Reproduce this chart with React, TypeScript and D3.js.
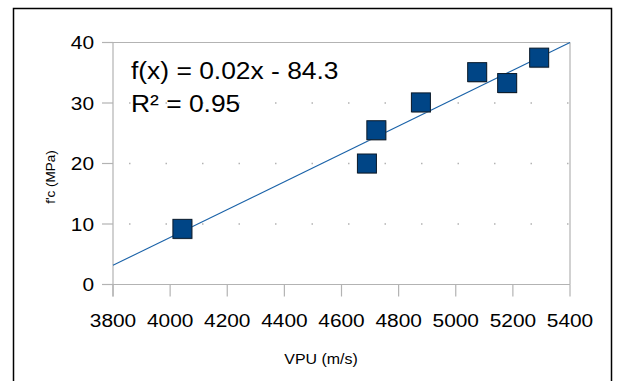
import React from "react";
import * as d3 from "d3";

const vpu = [4043, 4689, 4722, 4878, 5075, 5180, 5292];
const fc = [9.2, 20.0, 25.5, 30.1, 35.1, 33.3, 37.5];
const xTicks = [3800, 4000, 4200, 4400, 4600, 4800, 5000, 5200, 5400];
const yTicks = [0, 10, 20, 30, 40];
const gridValues = [10, 20, 30];
const trendSlope = 0.02302;
const trendIntercept = -84.3;
const equationLines = ["f(x) = 0.02x - 84.3", "R² = 0.95"];
const xTitle = "VPU (m/s)";
const yTitle = "f'c (MPa)";

const W = 618;
const H = 381;
const FONT = "'Liberation Sans', Arial, sans-serif";
const SX = 1.16;

function SText({ x, y, size, anchor = "start", children, sx = SX }: any) {
  return (
    <text
      transform={`translate(${x},${y}) scale(${sx},1)`}
      fontSize={size}
      fontFamily={FONT}
      textAnchor={anchor}
      fill="#000"
    >
      {children}
    </text>
  );
}

export default function App() {
  const x = d3.scaleLinear().domain([3800, 5400]).range([113, 570]);
  const y = d3.scaleLinear().domain([0, 40]).range([284.5, 42.5]);
  const axisColor = "#b3b3b3";
  const [x0, x1] = x.domain();
  const line = d3
    .line<number>()
    .x((d) => x(d))
    .y((d) => y(trendSlope * d + trendIntercept));
  const ms = 19;

  return (
    <svg
      width={W}
      height={H}
      style={{ position: "absolute", left: 0, top: 0, background: "#fff" }}
    >
      <rect x={0} y={0} width={W} height={H} fill="#fff" />
      <rect x={13.5} y={8.5} width={598} height={400} fill="none" stroke="#000" strokeWidth={1.5} />

      {/* dotted gridlines */}
      {gridValues.map((v) => (
        <line
          key={"g" + v}
          x1={x(x0)}
          x2={x(x1)}
          y1={y(v)}
          y2={y(v)}
          stroke={axisColor}
          strokeWidth={1.5}
          strokeDasharray="1.5 35"
          strokeDashoffset={-16}
        />
      ))}

      {/* plot frame */}
      <line x1={x(x0)} x2={x(x1)} y1={y(40)} y2={y(40)} stroke={axisColor} strokeWidth={1.2} />
      <line x1={x(x1)} x2={x(x1)} y1={y(40)} y2={y(0)} stroke={axisColor} strokeWidth={1.2} />
      <line x1={x(x0)} x2={x(x0)} y1={y(40)} y2={y(0) + 12} stroke={axisColor} strokeWidth={1.2} />
      <line x1={x(x0) - 11} x2={x(x1)} y1={y(0)} y2={y(0)} stroke={axisColor} strokeWidth={1.2} />

      {/* y ticks */}
      {yTicks.map((v) => (
        <g key={"yt" + v}>
          <line x1={x(x0) - 11} x2={x(x0)} y1={y(v)} y2={y(v)} stroke={axisColor} strokeWidth={1.2} />
          <SText x={94} y={y(v) + 6.5} size={18} anchor="end">
            {v}
          </SText>
        </g>
      ))}

      {/* x ticks */}
      {xTicks.map((v) => (
        <g key={"xt" + v}>
          <line x1={x(v)} x2={x(v)} y1={y(0)} y2={y(0) + 12} stroke={axisColor} strokeWidth={1.2} />
          <SText x={x(v)} y={327} size={18} anchor="middle">
            {v}
          </SText>
        </g>
      ))}

      {/* trend line */}
      <path d={line([x0, x1]) || ""} fill="none" stroke="#1a62a8" strokeWidth={1.1} />

      {/* markers */}
      {vpu.map((v, i) => (
        <g key={"m" + i}>
          <rect
            x={x(v) - ms / 2 + 0.5}
            y={y(fc[i]) - ms / 2 + 1}
            width={ms}
            height={ms}
            fill="#9a9a9a"
            opacity={0.6}
          />
          <rect
            x={x(v) - ms / 2}
            y={y(fc[i]) - ms / 2}
            width={ms}
            height={ms}
            fill="#004586"
            stroke="#0a1a2a"
            strokeWidth={1}
          />
        </g>
      ))}

      {/* equation */}
      <SText x={131} y={78.5} size={24} sx={1.1}>
        {equationLines[0]}
      </SText>
      <SText x={131} y={111.5} size={24} sx={1.1}>
        {equationLines[1]}
      </SText>

      {/* axis titles */}
      <SText x={321} y={363.5} size={14.5} anchor="middle" sx={1.1}>
        {xTitle}
      </SText>
      <text
        transform="translate(55,177) rotate(-90)"
        fontSize={13.5}
        fontFamily={FONT}
        textAnchor="middle"
        fill="#000"
      >
        {yTitle}
      </text>
    </svg>
  );
}
